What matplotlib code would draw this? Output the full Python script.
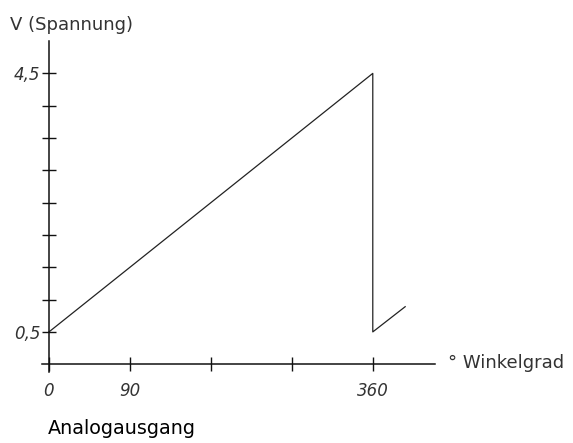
import matplotlib
matplotlib.use("Agg")
import matplotlib.pyplot as plt

# Data
angles = [0, 360, 360, 396]
volts = [0.5, 4.5, 0.5, 0.89]
x_ticks = [0, 90, 180, 270, 360]
x_tick_labels = ["0", "90", "", "", "360"]
y_ticks = [0.5, 1.0, 1.5, 2.0, 2.5, 3.0, 3.5, 4.0, 4.5]
y_tick_labels = ["0,5", "", "", "", "", "", "", "", "4,5"]

plt.rcParams['font.family'] = ['DejaVu Sans']

fig = plt.figure(figsize=(5.73, 4.43), dpi=100)
ax = fig.add_axes([0.0729, 0.1603, 0.686, 0.747])

ax.plot(angles, volts, color="#222222", lw=0.9)

ax.set_xlim(-8, 429)
ax.set_ylim(-0.12, 5.0)
for s in ["top", "right"]:
    ax.spines[s].set_visible(False)
ax.spines["left"].set_position(("data", 0))
ax.spines["bottom"].set_position(("data", 0))
for s in ["left", "bottom"]:
    ax.spines[s].set_linewidth(1.1)
    ax.spines[s].set_color("#111111")

ax.set_xticks(x_ticks)
ax.set_xticklabels(x_tick_labels, fontstyle="italic", fontsize=12, color="#333333")
ax.set_yticks(y_ticks)
ax.set_yticklabels(y_tick_labels, fontstyle="italic", fontsize=12, color="#333333")
ax.tick_params(axis="both", direction="inout", length=10, width=1.0, color="#111111")
ax.tick_params(axis="x", pad=8)
ax.tick_params(axis="y", pad=1)

fig.text(10 / 573, 1 - 25 / 443, "V (Spannung)", fontsize=13, color="#333333",
         ha="left", va="center")
fig.text(448 / 573, 1 - 363 / 443, "° Winkelgrad", fontsize=13, color="#333333",
         ha="left", va="center")
fig.text(48 / 573, 1 - 428 / 443, "Analogausgang", fontsize=13.8, color="#000000",
         ha="left", va="center")

fig.savefig("out.png", dpi=100)
